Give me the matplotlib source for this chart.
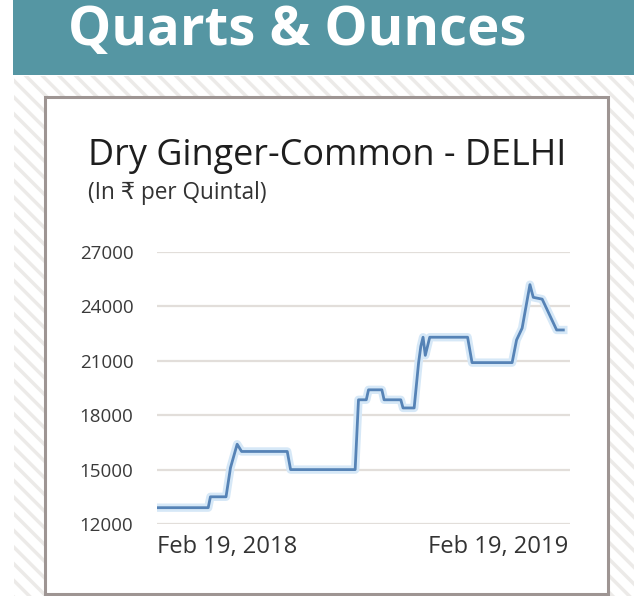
import matplotlib
matplotlib.use("Agg")
import matplotlib.pyplot as plt
from matplotlib.patches import Rectangle
import pandas as pd

# ---- data ----
dates = ["2018-02-19", "2018-04-06", "2018-04-08", "2018-04-22", "2018-04-26",
         "2018-05-02", "2018-05-06", "2018-06-16", "2018-06-19", "2018-08-16",
         "2018-08-19", "2018-08-26", "2018-08-28", "2018-09-09", "2018-09-11",
         "2018-09-26", "2018-09-28", "2018-10-08", "2018-10-12", "2018-10-14",
         "2018-10-16", "2018-10-18", "2018-10-22", "2018-11-25", "2018-11-29",
         "2019-01-04", "2019-01-08", "2019-01-13", "2019-01-20", "2019-01-23",
         "2019-01-31", "2019-02-13", "2019-02-19"]
prices = [12900, 12900, 13500, 13500, 15100,
          16400, 16000, 16000, 15000, 15000,
          18850, 18850, 19400, 19400, 18850,
          18850, 18400, 18400, 20900, 21800,
          22300, 21300, 22300, 22300, 20900,
          20900, 22150, 22800, 25200, 24500,
          24400, 22700, 22700]
y_ticks = [12000, 15000, 18000, 21000, 24000, 27000]
x_tick_labels = ["Feb 19, 2018", "Feb 19, 2019"]
banner = "Quarts & Ounces"
title = "Dry Ginger-Common - DELHI"
subtitle = "(In \u20b9 per Quintal)"

W, H = 634, 596
fig = plt.figure(figsize=(W / 100, H / 100), dpi=100)
fig.patch.set_facecolor("white")

def fx(px):
    return px / W

def fy(py):
    return 1 - py / H

# background: hatched area
bg = fig.add_axes([0, 0, 1, 1], zorder=0)
bg.set_xlim(0, W)
bg.set_ylim(H, 0)
bg.axis("off")
plt.rcParams["hatch.linewidth"] = 2.5
bg.add_patch(Rectangle((14, 76), W - 14, H - 76, facecolor="white",
                       edgecolor="#eceae8", hatch="\\\\", linewidth=0))
# banner
bg.add_patch(Rectangle((13, 0), W - 13, 75, facecolor="#5596a3", edgecolor="none"))
# inner box
bg.add_patch(Rectangle((45, 97), 563, 497, facecolor="white", edgecolor="#9e9593",
                       linewidth=2.2))

fig.canvas.draw()
renderer = fig.canvas.get_renderer()

def fit_text(x, y, s, target_w, fs0, **kw):
    t = fig.text(x, y, s, fontsize=fs0, **kw)
    w = t.get_window_extent(renderer).width
    t.set_fontsize(fs0 * target_w / w)
    return t

fit_text(fx(68), fy(31), banner, 458, 40, color="white", fontweight="bold",
         family=["Liberation Sans Narrow", "Open Sans", "DejaVu Sans"],
         va="center", ha="left")
fit_text(fx(88), fy(156), title, 479, 24, color="#1e1e1e",
         family=["Open Sans", "DejaVu Sans"], va="center", ha="left")
fit_text(fx(88), fy(193), subtitle, 179, 11, color="#333333",
         family=["Open Sans", "DejaVu Sans"], va="center", ha="left")

# chart axes
ax = fig.add_axes([fx(157), fy(524), fx(570) - fx(157), fy(252) - fy(524)], zorder=2)
ax.patch.set_alpha(0)
x = pd.to_datetime(dates)
x0 = pd.Timestamp("2018-02-19")
ax.set_xlim(x0, x0 + pd.Timedelta(days=371))
ax.set_ylim(12000, 27000)
for v in y_ticks:
    ax.axhline(v, color="#e2deda", linewidth=1.6, zorder=1)
ax.plot(x, prices, color="#d6e8f7", linewidth=6, solid_joinstyle="round", zorder=2)
ax.plot(x, prices, color="#5683b6", linewidth=2.0, solid_joinstyle="round", zorder=3)
for s in ax.spines.values():
    s.set_visible(False)
ax.set_yticks(y_ticks)
ax.set_yticklabels([str(v) for v in y_ticks], fontsize=13.5, color="#3a3a3a",
                   family=["Open Sans", "DejaVu Sans"])
ax.tick_params(axis="y", length=0, pad=17)
ax.set_xticks([])

for lab, ha in zip(x_tick_labels, ["left", "right"]):
    px = 157 if ha == "left" else 568
    fit_text(fx(px), fy(547), lab, 140, 16, color="#333333",
             family=["Open Sans", "DejaVu Sans"], va="center", ha=ha)

fig.savefig("out.png", dpi=100)
